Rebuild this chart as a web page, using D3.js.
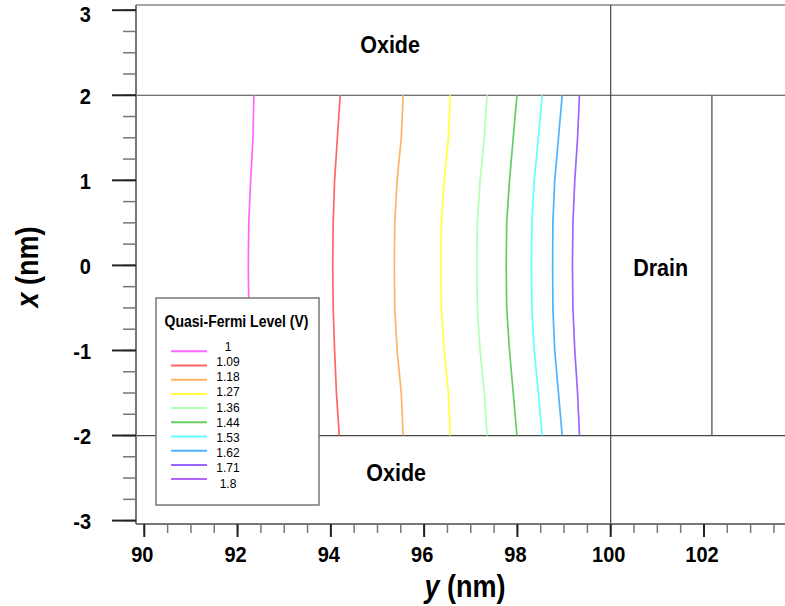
<!DOCTYPE html>
<html>
<head>
<meta charset="utf-8">
<script src="https://cdn.jsdelivr.net/npm/d3@7"></script>
<style>
  body { margin: 0; background: #fff; }
  svg { display: block; font-family: Arial, "Liberation Sans", sans-serif; }
</style>
</head>
<body>
<svg id="s" width="785" height="606"></svg>
<script>
// contour levels (V) and colours
const levels = [1, 1.09, 1.18, 1.27, 1.36, 1.44, 1.53, 1.62, 1.71, 1.8];
const levelColors = ['#ff66ff', '#ff6666', '#ffb366', '#ffff40', '#b3ffb3',
  '#66cc66', '#66ffff', '#4db3ff', '#9966ff', '#b366ff'];

// sample heights x (nm) along each contour
const xs = [2, 1.75, 1.5, 1, 0.5, 0, -0.5, -1, -1.5, -1.75, -2];
// y position (nm) of each contour at those heights (1.8 V contour not drawn)
const contours = [
  [92.35, 92.34, 92.33, 92.28, 92.24, 92.23, 92.24, 92.28, 92.33, 92.34, 92.35],
  [94.20, 94.17, 94.14, 94.08, 94.05, 94.04, 94.05, 94.08, 94.12, 94.15, 94.18],
  [95.55, 95.53, 95.51, 95.42, 95.37, 95.36, 95.37, 95.42, 95.51, 95.53, 95.55],
  [96.56, 96.54, 96.52, 96.43, 96.37, 96.36, 96.37, 96.43, 96.52, 96.54, 96.56],
  [97.35, 97.32, 97.29, 97.20, 97.14, 97.13, 97.14, 97.20, 97.29, 97.32, 97.35],
  [97.99, 97.95, 97.91, 97.83, 97.77, 97.76, 97.77, 97.83, 97.91, 97.95, 97.99],
  [98.53, 98.49, 98.45, 98.36, 98.31, 98.30, 98.31, 98.36, 98.45, 98.49, 98.53],
  [98.96, 98.92, 98.88, 98.80, 98.76, 98.755, 98.76, 98.80, 98.88, 98.92, 98.96],
  [99.33, 99.31, 99.29, 99.23, 99.19, 99.18, 99.19, 99.23, 99.29, 99.31, 99.33],
];

const yTicks = [-3, -2, -1, 0, 1, 2, 3];
const yMinor = d3.range(-3, 3.01, 0.25);
const xTicks = [90, 92, 94, 96, 98, 100, 102];
const xMinor = d3.range(90, 103.6, 0.5);

// device regions
const oxideTop = 2, oxideBottom = -2, drainStart = 100, drainLine = 102.17;
const regionLabels = [
  { text: 'Oxide', y: 95.27, x: 2.6 },
  { text: 'Oxide', y: 95.40, x: -2.43 },
  { text: 'Drain', y: 101.07, x: -0.03 },
];

const svg = d3.select('#s');
const X = d3.scaleLinear().domain([90, 100]).range([144.3, 610.7]);
const Y = d3.scaleLinear().domain([-3, 3]).range([520.6, 10.2]);
const pLeft = 136, pRight = 785, pTop = 5, pBottom = 524;
const stretch = 'scale(1,1.13)';

const txt = (x, y, s, size, weight, anchor) => svg.append('text')
  .attr('transform', `translate(${x},${y}) ${stretch}`)
  .attr('text-anchor', anchor || 'middle')
  .attr('dominant-baseline', 'central')
  .attr('font-size', size)
  .attr('font-weight', weight || 'normal')
  .text(s);

// frame
svg.append('line').attr('x1', pLeft).attr('x2', pRight).attr('y1', pTop).attr('y2', pTop)
  .attr('stroke', '#888').attr('stroke-width', 1.5);

// region boundaries
const g = svg.append('g').attr('stroke', '#444').attr('stroke-width', 1.2);
[oxideTop, oxideBottom].forEach(v => {
  g.append('line').attr('x1', pLeft).attr('x2', pRight).attr('y1', Y(v)).attr('y2', Y(v));
});
g.append('line').attr('x1', X(drainStart)).attr('x2', X(drainStart)).attr('y1', pTop).attr('y2', pBottom);
g.append('line').attr('x1', X(drainLine)).attr('x2', X(drainLine)).attr('y1', Y(oxideTop)).attr('y2', Y(oxideBottom));

// contours
const line = d3.line().x(d => X(d[0])).y(d => Y(d[1]));
svg.append('g').selectAll('path')
  .data(contours)
  .join('path')
  .attr('d', c => line(c.map((v, i) => [v, xs[i]])))
  .attr('fill', 'none')
  .attr('stroke', (c, i) => levelColors[i])
  .attr('stroke-width', 1.7);

regionLabels.forEach(d => txt(X(d.y), Y(d.x), d.text, 21.5, 'bold'));

// y axis
svg.append('line').attr('x1', pLeft).attr('x2', pLeft).attr('y1', pTop).attr('y2', pBottom)
  .attr('stroke', '#777').attr('stroke-width', 2);
svg.append('g').selectAll('line').data(yMinor).join('line')
  .attr('x1', 123).attr('x2', pLeft).attr('y1', d => Y(d)).attr('y2', d => Y(d))
  .attr('stroke', '#777').attr('stroke-width', 1.5);
svg.append('g').selectAll('line').data(yTicks).join('line')
  .attr('x1', 112).attr('x2', pLeft).attr('y1', d => Y(d)).attr('y2', d => Y(d))
  .attr('stroke', '#222').attr('stroke-width', 2);
yTicks.forEach(d => txt(91, Math.max(Y(d) + 1, 14.5), String(d), 20, 'bold', 'end'));

// x axis
svg.append('line').attr('x1', pLeft).attr('x2', pRight).attr('y1', pBottom).attr('y2', pBottom)
  .attr('stroke', '#777').attr('stroke-width', 2);
svg.append('g').selectAll('line').data(xMinor).join('line')
  .attr('x1', d => X(d)).attr('x2', d => X(d)).attr('y1', pBottom).attr('y2', 533)
  .attr('stroke', '#777').attr('stroke-width', 1.5);
svg.append('g').selectAll('line').data(xTicks).join('line')
  .attr('x1', d => X(d)).attr('x2', d => X(d)).attr('y1', pBottom).attr('y2', 537)
  .attr('stroke', '#222').attr('stroke-width', 2);
xTicks.forEach(d => txt(X(d) - 2, 555, String(d), 20, 'bold'));

// axis titles
const xt = svg.append('text')
  .attr('transform', `translate(465,586) ${stretch}`)
  .attr('text-anchor', 'middle').attr('dominant-baseline', 'central')
  .attr('font-size', 27).attr('font-weight', 'bold');
xt.append('tspan').attr('font-style', 'italic').text('y');
xt.append('tspan').text(' (nm)');
const yt = svg.append('text')
  .attr('transform', `translate(27,267) rotate(-90) scale(1,1.13)`)
  .attr('text-anchor', 'middle').attr('dominant-baseline', 'central')
  .attr('font-size', 27).attr('font-weight', 'bold');
yt.append('tspan').attr('font-style', 'italic').text('x');
yt.append('tspan').text(' (nm)');

// legend
const lg = svg.append('g');
lg.append('rect').attr('x', 156).attr('y', 298).attr('width', 163).attr('height', 207)
  .attr('fill', '#fff').attr('stroke', '#777').attr('stroke-width', 1.5);
txt(236.5, 321.5, 'Quasi-Fermi Level (V)', 14, 'bold');
levels.forEach((lv, i) => {
  lg.append('line').attr('x1', 171).attr('x2', 207)
    .attr('y1', 351.3 + i * 14.2).attr('y2', 351.3 + i * 14.2)
    .attr('stroke', levelColors[i]).attr('stroke-width', 2);
  txt(228, 346 + i * 15.2, String(lv), 12, 'normal');
});
</script>
</body>
</html>
